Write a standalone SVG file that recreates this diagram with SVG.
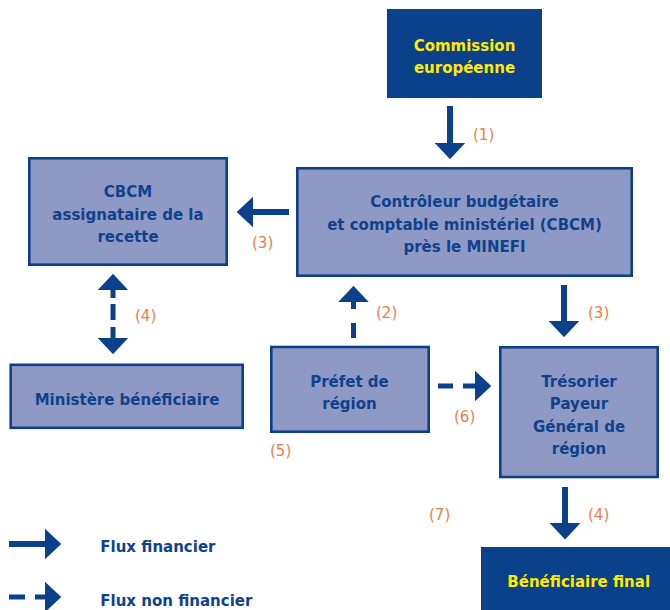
<svg xmlns="http://www.w3.org/2000/svg" width="670" height="610" viewBox="0 0 670 610">
<style>
.box{fill:#8f99c5;stroke:#0d408a;stroke-width:2.6}
.dark{fill:#0b418a}
.t{font-family:"DejaVu Sans","Liberation Sans",sans-serif;font-weight:bold;font-size:15px;fill:#0f428b;text-anchor:middle}
.ty{font-family:"DejaVu Sans","Liberation Sans",sans-serif;font-weight:bold;font-size:15px;fill:#ffea00;text-anchor:middle}
.lg{font-family:"DejaVu Sans","Liberation Sans",sans-serif;font-weight:bold;font-size:15px;fill:#0f428b}
.n{font-family:"DejaVu Sans","Liberation Sans",sans-serif;font-size:15px;fill:#ee7d4a}
.solid{fill:none;stroke:#0b418a;stroke-width:6;marker-end:url(#ah)}
.dash{fill:none;stroke:#0b418a;stroke-width:5;marker-end:url(#ah)}
</style>
<defs>
<marker id="ah" markerUnits="userSpaceOnUse" viewBox="0 0 16.5 31" markerWidth="16.5" markerHeight="31" refX="0.3" refY="15.5" orient="auto-start-reverse">
<path d="M0,0L16.5,15.5L0,31z" fill="#0b418a"/>
</marker>
</defs>
<rect width="670" height="610" fill="#ffffff"/>

<g id="commission">
<rect class="dark" x="387" y="9" width="155" height="89"/>
<text class="ty" x="464.5" y="51">Commission</text>
<text class="ty" x="464.5" y="73">européenne</text>
</g>

<g id="cbcm-minefi">
<rect class="box" x="297.3" y="168.3" width="334.4" height="107.4"/>
<text class="t" x="464.5" y="207">Contrôleur budgétaire</text>
<text class="t" x="464.5" y="229.5">et comptable ministériel (CBCM)</text>
<text class="t" x="464.5" y="252">près le MINEFI</text>
</g>

<g id="cbcm-assignataire">
<rect class="box" x="29.3" y="158.3" width="197.4" height="106.4"/>
<text class="t" x="128" y="197">CBCM</text>
<text class="t" x="128" y="219.5">assignataire de la</text>
<text class="t" x="128" y="242">recette</text>
</g>

<g id="ministere">
<rect class="box" x="10.7" y="364.8" width="232" height="63"/>
<text class="t" x="127" y="405">Ministère bénéficiaire</text>
</g>

<g id="prefet">
<rect class="box" x="271.3" y="347" width="157.4" height="84.7"/>
<text class="t" x="349.5" y="387">Préfet de</text>
<text class="t" x="349.5" y="409">région</text>
</g>

<g id="tresorier">
<rect class="box" x="500.3" y="347.3" width="157.4" height="129.7"/>
<text class="t" x="579" y="387">Trésorier</text>
<text class="t" x="579" y="409">Payeur</text>
<text class="t" x="579" y="431.5">Général de</text>
<text class="t" x="579" y="453.5">région</text>
</g>

<g id="beneficiaire">
<rect class="dark" x="481" y="547" width="195" height="70"/>
<text class="ty" x="578.7" y="587">Bénéficiaire final</text>
</g>

<g id="connectors">
<path class="solid" d="M450,106V143"/>
<path class="solid" d="M289,212H253"/>
<path class="dash" d="M113,290V298M113,304V320M113,327V338" marker-start="url(#ah)"/>
<path class="dash" d="M353.5,338V323M353.5,309V302"/>
<path class="solid" d="M564,285V321"/>
<path class="dash" d="M438,386H453M463,386H475"/>
<path class="solid" d="M565,487V523.3"/>
</g>

<g id="labels">
<text class="n" x="473" y="140">(1)</text>
<text class="n" x="252" y="248">(3)</text>
<text class="n" x="135" y="321">(4)</text>
<text class="n" x="376" y="318">(2)</text>
<text class="n" x="588" y="318">(3)</text>
<text class="n" x="454" y="422">(6)</text>
<text class="n" x="270" y="456">(5)</text>
<text class="n" x="429" y="520">(7)</text>
<text class="n" x="588" y="520">(4)</text>
</g>

<g id="legend">
<path class="solid" d="M9,544H45"/>
<path class="dash" d="M9,597H25M35,597H45"/>
<text class="lg" x="100.3" y="552">Flux financier</text>
<text class="lg" x="100.3" y="606">Flux non financier</text>
</g>
</svg>
